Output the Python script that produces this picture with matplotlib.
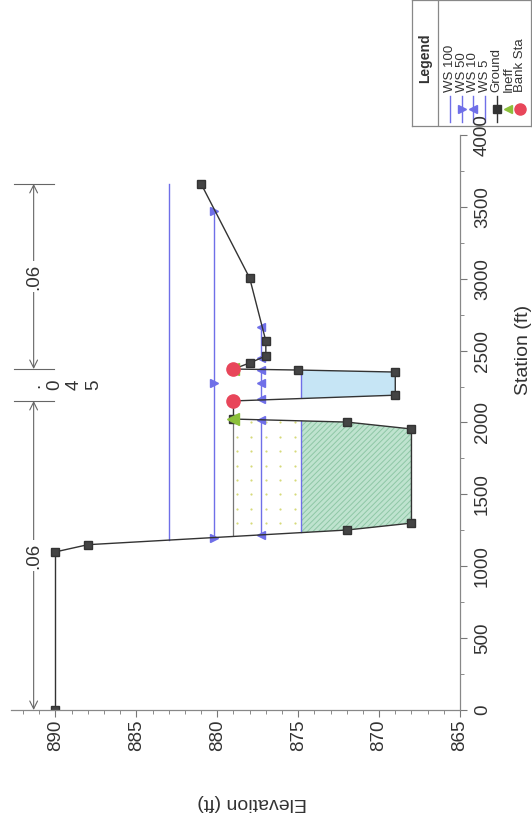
import matplotlib
matplotlib.use('Agg')
import matplotlib.pyplot as plt
import numpy as np
from matplotlib.ticker import MultipleLocator

plt.rcParams['font.family'] = ['Liberation Sans', 'DejaVu Sans']
plt.rcParams['hatch.linewidth'] = 0.7

# ground profile: station (ft), elevation (ft)
ground_sta = [0, 1100, 1150, 1252, 1300, 1955, 2003, 2024, 2150, 2190, 2351,
              2365, 2372, 2414, 2463, 2567, 3005, 3660]
ground_elev = [890, 890, 888, 872, 868, 868, 872, 879, 879, 869,
               869, 875, 879, 878, 877, 877, 878, 881]

bank_sta = [2150, 2372]
bank_elev = [879, 879]
ineff_sta = [2024, 2372]
ineff_elev = [879, 879]
ineff_limits = [1217, 2024]
ineff_top = 879

ws_names = ['WS 100', 'WS 50', 'WS 10', 'WS 5']
ws_elev = [883.0, 880.2, 877.3, 874.8]
ws_segments = [[(1182, 3660)],
               [(1197, 3471)],
               [(1217, 2017), (2157, 2368), (2449, 2664)],
               [(1235, 2010), (2177, 2365)]]
ws_marks = [[], [1197, 2275, 3471], [1217, 2017, 2163, 2275, 2365, 2449, 2664], []]
ws_markers = ['', '>', '<', '']

n_breaks = [0, 2150, 2372, 3660]
n_values = ['.06', '.045', '.06']

W, H = 532, 817
def fx(px):
    return px / W
def fy(py):
    return 1 - py / H

blue = '#6f6fe8'
fig = plt.figure(figsize=(W / 100, H / 100), dpi=100)
fig.patch.set_facecolor('white')

# legend box first so the axes and its labels sit on top
lx0, ly0, lw_, lh_ = 412, 0, 119, 126
lax = fig.add_axes([fx(lx0), fy(ly0 + lh_), lw_ / W, lh_ / H])
lax.set_zorder(0)

ax = fig.add_axes([fx(11), fy(710), (460 - 11) / W, (710 - 135) / H])
ax.set_zorder(1)
ax.patch.set_alpha(0)

# the chart is drawn turned a quarter turn: elevation across, station up
ax.set_xlim(892.75, 865)
ax.set_ylim(0, 4000)

sta_f = np.linspace(1100, 2450, 4000)
g_f = np.interp(sta_f, ground_sta, ground_elev)
ws5 = ws_elev[3]
in_ineff = (sta_f >= ineff_limits[0]) & (sta_f <= ineff_limits[1])
in_chan = (sta_f >= bank_sta[0]) & (sta_f <= bank_sta[1])

# ineffective area: faint dots clipped to the area
ineff_poly = ax.fill_betweenx(sta_f, np.minimum(g_f, ineff_top), ineff_top,
                              where=in_ineff & (g_f < ineff_top), interpolate=True,
                              facecolor='none', edgecolor='none', lw=0)
ge, gs = np.meshgrid(np.arange(865.3, 880, 0.9), np.arange(1100, 2100, 100))
dots = ax.scatter(ge.ravel(), gs.ravel(), s=2.5, color='#d6da7a', lw=0)
dots.set_clip_path(ineff_poly.get_paths()[0], ax.transData)

# water fills
ax.fill_betweenx(sta_f, g_f, ws5, where=in_ineff & (g_f < ws5), interpolate=True,
                 facecolor='#bfe3cf', edgecolor='#8fc7a6', hatch='//////', lw=0)
ax.fill_betweenx(sta_f, g_f, ws5, where=in_chan & (g_f < ws5), interpolate=True,
                 facecolor='#c6e5f5', edgecolor='none', lw=0)
ax.plot([ineff_top, ineff_top], ineff_limits, color='#777777', lw=0.9)

for name, el, segs, marks, m in zip(ws_names, ws_elev, ws_segments, ws_marks, ws_markers):
    for s0, s1 in segs:
        ax.plot([el, el], [s0, s1], color=blue, lw=1.0)
    if marks:
        ax.plot([el] * len(marks), marks, ls='none', marker=m, ms=5.5, color=blue,
                mec=blue)

ax.plot(ground_elev, ground_sta, color='#333333', lw=1.0, marker='s', ms=5.5,
        mfc='#444444', mec='#333333')
ax.plot(ineff_elev, ineff_sta, ls='none', marker='<', ms=8, color='#8bbf3a')
ax.plot(bank_elev, bank_sta, ls='none', marker='o', ms=9.5, color='#e8465a')

# Manning's n dimension line
n_x = 891.35
arr = dict(arrowstyle='<->', color='#666666', lw=0.8, shrinkA=0, shrinkB=0,
           mutation_scale=14)
for b in n_breaks[1:]:
    ax.plot([892.57, 890.1], [b, b], color='#666666', lw=0.8, clip_on=False)
for i, lab in enumerate(n_values):
    s0, s1 = n_breaks[i], n_breaks[i + 1]
    if s1 - s0 > 500:
        ax.annotate('', xy=(n_x, s0), xytext=(n_x, s1), arrowprops=arr,
                    annotation_clip=False)
        ax.text(n_x, (s0 + s1) / 2, lab, rotation=90, ha='center', va='center',
                fontsize=13.5, color='#333333',
                bbox=dict(facecolor='white', edgecolor='none', pad=1.5))
    else:
        ax.text(889.45, (s0 + s1) / 2, '\n'.join(lab), rotation=90, ha='center',
                va='center', fontsize=13.5, color='#333333', linespacing=1.2)

for sp in ['top', 'left']:
    ax.spines[sp].set_visible(False)
for sp in ['bottom', 'right']:
    ax.spines[sp].set_color('#888888')
    ax.spines[sp].set_linewidth(0.9)
ax.yaxis.tick_right()
ax.xaxis.set_major_locator(MultipleLocator(5))
ax.xaxis.set_minor_locator(MultipleLocator(1))
ax.yaxis.set_major_locator(MultipleLocator(500))
ax.yaxis.set_minor_locator(MultipleLocator(250))
ax.tick_params(which='both', direction='out', color='#777777', labelcolor='#333333',
               labelsize=13.5)
ax.tick_params(axis='x', which='major', length=5, pad=2, labelrotation=90)
ax.tick_params(axis='x', which='minor', length=3)
ax.tick_params(axis='y', which='major', length=5, pad=5, labelrotation=90)
ax.tick_params(axis='y', which='minor', length=3)
ax.set_xticks([890, 885, 880, 875, 870, 865])
for t in ax.get_yticklabels():
    t.set_va('center')

fig.text(fx(252), fy(802), 'Elevation (ft)', rotation=180, ha='center', va='center',
         fontsize=14, color='#333333')
fig.text(fx(523), fy(350), 'Station (ft)', rotation=90, ha='center', va='center',
         fontsize=14, color='#333333')

# legend contents, laid out in pixel units inside the box
lax.set_xlim(0, lw_)
lax.set_ylim(lh_, 0)
lax.set_xticks([])
lax.set_yticks([])
for sp in lax.spines.values():
    sp.set_color('#888888')
    sp.set_linewidth(0.9)
lax.text(13, 58, 'Legend', rotation=90, ha='center', va='center', fontsize=10,
         fontweight='bold', color='#333333')
lax.plot([26, 26], [0, lh_], color='#888888', lw=0.9)
leg_names = ws_names + ['Ground', 'Ineff', 'Bank Sta']
leg_style = [(blue, '', '-'), (blue, '>', '-'), (blue, '<', '-'), (blue, '', '-'),
             ('#333333', 's', '-'), ('#8bbf3a', '<', 'none'), ('#e8465a', 'o', 'none')]
rows = np.linspace(38, 108, len(leg_names))
for xr, name, (c, mk, ls) in zip(rows, leg_names, leg_style):
    if ls != 'none':
        lax.plot([xr, xr], [96, 122], color=c, lw=1.0)
    if mk:
        lax.plot([xr], [109], marker=mk, color=c, ls='none',
                 ms={'o': 8, 's': 5.5}.get(mk, 6))
    lax.text(xr, 92, name, rotation=90, ha='center', va='bottom', fontsize=9.5,
             color='#333333')

fig.savefig('out.png', dpi=100)
